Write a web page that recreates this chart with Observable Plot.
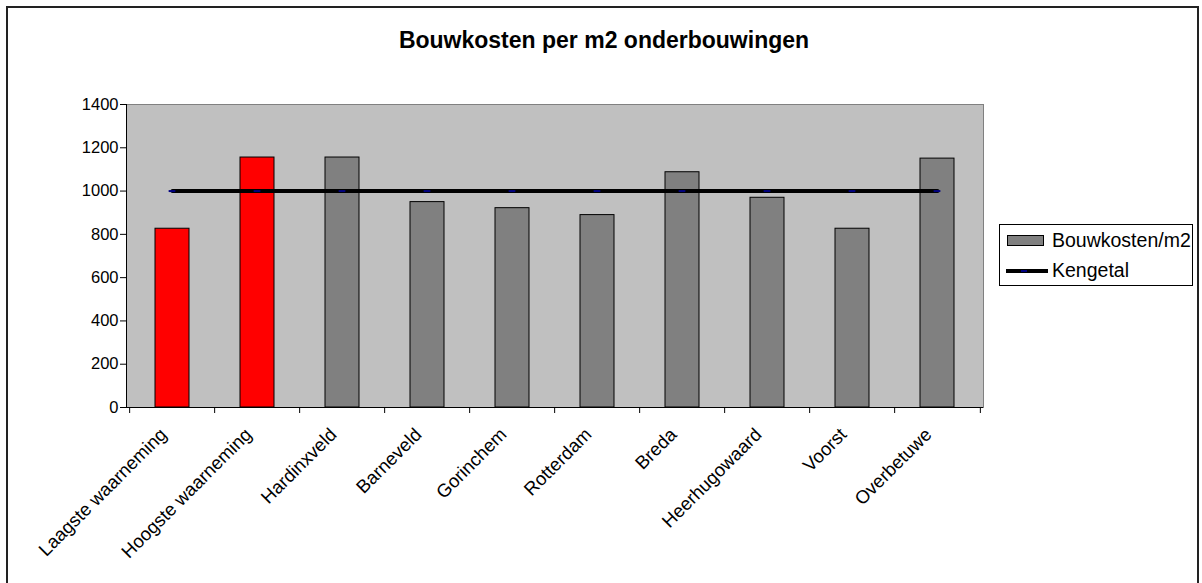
<!DOCTYPE html>
<html>
<head>
<meta charset="utf-8">
<script src="https://cdn.jsdelivr.net/npm/d3@7"></script>
<script src="https://cdn.jsdelivr.net/npm/@observablehq/plot@0.6"></script>
<style>
  html, body { margin: 0; padding: 0; background: #fff; }
  #wrap { position: relative; width: 1202px; height: 583px; overflow: hidden; font-family: "Liberation Sans", Arial, sans-serif; }
  #border { position: absolute; left: 6px; top: 6px; width: 1193px; height: 700px; border: 2px solid #222; box-sizing: border-box; }
  #title { position: absolute; left: 0; top: 27px; width: 1208px; text-align: center; font-weight: bold; font-size: 23px; color: #000; }
  #legend { position: absolute; left: 999px; top: 224px; width: 194px; height: 62px; border: 1px solid #000; box-sizing: border-box; background: #fff; font-size: 19.5px; }
  .sw { position: absolute; left: 7px; top: 10px; width: 37px; height: 11px; background: #808080; border: 1px solid #000; box-sizing: border-box; }
  .ln { position: absolute; left: 6px; top: 44px; width: 42px; height: 4px; background: #000; }
  .mk { position: absolute; left: 21px; top: 45px; width: 6px; height: 2px; background: #000080; }
  .t1 { position: absolute; left: 52px; top: 4px; }
  .t2 { position: absolute; left: 52px; top: 34px; }
  svg { position: absolute; left: 0; top: 0; }
</style>
</head>
<body>
<div id="wrap">
  <div id="border"></div>
  <div id="title">Bouwkosten per m2 onderbouwingen</div>
  <div id="legend">
    <div class="sw"></div><div class="t1">Bouwkosten/m2</div>
    <div class="ln"></div><div class="mk"></div><div class="t2">Kengetal</div>
  </div>
</div>
<script>
const categories = ["Laagste waarneming", "Hoogste waarneming", "Hardinxveld", "Barneveld", "Gorinchem", "Rotterdam", "Breda", "Heerhugowaard", "Voorst", "Overbetuwe"];
const bouwkosten = [826, 1155, 1155, 949, 921, 889, 1087, 969, 826, 1150];
const kengetal = [1000, 1000, 1000, 1000, 1000, 1000, 1000, 1000, 1000, 1000];
const barColors = ["#FF0000", "#FF0000", "#808080", "#808080", "#808080", "#808080", "#808080", "#808080", "#808080", "#808080"];
const yTicks = [0, 200, 400, 600, 800, 1000, 1200, 1400];

const data = categories.map((c, i) => ({cat: c, value: bouwkosten[i], keng: kengetal[i], color: barColors[i]}));

const W = 1202, H = 583, ML = 126, MR = 219, MT = 104, MB = 176;
const step = (W - ML - MR) / categories.length;
const bw = step * 0.4;

const plot = Plot.plot({
  width: W, height: H,
  marginLeft: ML, marginRight: MR, marginTop: MT, marginBottom: MB,
  style: {fontFamily: "'Liberation Sans', Arial, sans-serif", background: "transparent", color: "#000"},
  x: {domain: categories, paddingInner: 0.6, paddingOuter: 0.3, label: null},
  y: {domain: [0, 1400], label: null},
  color: {type: "identity"},
  marks: [
    Plot.frame({fill: "#C0C0C0", stroke: "#808080"}),
    Plot.barY(data, {x: "cat", y: "value", fill: "color", stroke: "#000", strokeWidth: 1}),
    Plot.lineY(data, {x: "cat", y: "keng", stroke: "#000", strokeWidth: 4}),
    Plot.tickY(data, {x: "cat", y: "keng", stroke: "#000080", strokeWidth: 2, inset: (bw - 7) / 2}),
    Plot.ruleY([0], {stroke: "#000"}),
    Plot.frame({anchor: "left", stroke: "#000"}),
    Plot.ruleX(categories, {x: d => d, dx: -step / 2, y1: 0, y2: 0, insetBottom: -6, stroke: "#000"}),
    Plot.ruleX([categories[categories.length - 1]], {x: d => d, dx: step / 2, y1: 0, y2: 0, insetBottom: -6, stroke: "#000"}),
    Plot.axisY({ticks: yTicks, tickFormat: d => String(d), tickSize: 6, tickPadding: 2, fontSize: 16.5, stroke: "#000", label: null}),
    Plot.axisX({tickSize: 0, tickRotate: -45, tickPadding: 9, dx: -9, dy: 15, fontSize: 18.5, label: null})
  ]
});
document.getElementById("wrap").appendChild(plot);
</script>
</body>
</html>
